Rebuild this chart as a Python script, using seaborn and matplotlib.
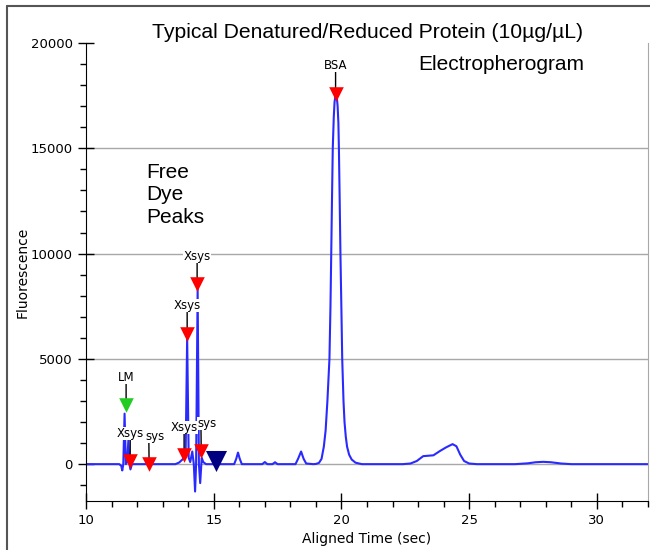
import matplotlib
matplotlib.use("Agg")
import matplotlib.pyplot as plt
from matplotlib.lines import Line2D
from matplotlib.ticker import MultipleLocator
import seaborn as sns

# electropherogram trace (time in sec, fluorescence)
trace_time = [10.0, 11.3, 11.38, 11.42, 11.46, 11.51, 11.56, 11.61, 11.66, 11.70,
              11.74, 11.80, 12.5, 13.5, 13.65, 13.80, 13.90, 13.96, 14.02, 14.08,
              14.16, 14.22, 14.27, 14.31, 14.37, 14.42, 14.47, 14.53, 14.59, 14.70,
              15.8, 15.88, 15.95, 16.02, 16.1, 16.9, 17.0, 17.1, 17.3, 17.4,
              17.5, 18.2, 18.3, 18.42, 18.52, 18.62, 18.9, 19.0, 19.12, 19.22,
              19.31, 19.38, 19.45, 19.53, 19.57, 19.60, 19.63, 19.66, 19.70, 19.73,
              19.76, 19.79, 19.82, 19.85, 19.88, 19.90, 19.93, 19.96, 20.0, 20.03,
              20.08, 20.12, 20.17, 20.22, 20.30, 20.4, 20.55, 20.8, 22.4, 22.7,
              22.95, 23.2, 23.4, 23.6, 23.85, 24.1, 24.35, 24.5, 24.65, 24.8,
              25.0, 25.3, 26.8, 27.3, 27.6, 27.9, 28.2, 28.6, 29.0, 32.0]
trace_fluor = [0, 0, -80, -300, 0, 2400, 0, 100, 1150, 0,
               -250, 0, 0, 0, 80, 250, 500, 6000, 300, 100,
               600, 0, -1300, 0, 8300, 0, -900, 300, 100, 0,
               0, 250, 550, 250, 0, 0, 100, 0, 0, 90,
               0, 0, 250, 600, 250, 30, 0, 10, 60, 250,
               830, 1600, 3000, 5000, 7500, 10000, 12600, 15000, 16500, 17200,
               17450, 17500, 17400, 17000, 16200, 15000, 12600, 10000, 7200, 5000,
               3000, 2000, 1300, 830, 450, 220, 70, 0, 0, 30,
               150, 380, 400, 420, 620, 800, 950, 850, 450, 150,
               30, 0, 0, 40, 90, 110, 90, 30, 0, 0]

# peak markers
peak_labels = ["LM", "Xsys", "sys", "Xsys", "sys", "Xsys", "Xsys", "BSA", ""]
peak_times = [11.57, 11.73, 12.47, 13.84, 14.51, 13.96, 14.35, 19.77, 15.1]
peak_heights = [2800, 140, 0, 430, 620, 6200, 8550, 17600, 150]
peak_colors = ["#22cc22", "red", "red", "red", "red", "red", "red", "red", "#000080"]
peak_sizes = [110, 110, 110, 110, 110, 110, 110, 110, 230]

sns.set_style("ticks")
plt.rcParams["text.color"] = "black"

fig = plt.figure(figsize=(6.5, 5.5), dpi=100)
ax = fig.add_axes([86 / 650, 49 / 550, 562 / 650, 458 / 550])

for gy in [0, 5000, 10000, 15000]:
    ax.axhline(gy, color="#a8a8a8", lw=1, zorder=0)

sns.lineplot(x=trace_time, y=trace_fluor, ax=ax, color="#2a2aff", lw=1.5,
             estimator=None, zorder=2)

for i, (lab, t, h) in enumerate(zip(peak_labels, peak_times, peak_heights)):
    if not lab:
        continue
    # the partly hidden "sys" labels sit a little right of their marker
    dx = 4 if lab == "sys" else 0
    rel = 0.2 if lab == "sys" else 0.5
    ax.annotate(lab, xy=(t, h), xytext=(dx, 20), textcoords="offset points",
                ha="center", va="center", fontsize=8.5, family="DejaVu Sans",
                color="black",
                bbox=dict(boxstyle="square,pad=0.0", fc="white", ec="none"),
                arrowprops=dict(arrowstyle="-", color="black", lw=1,
                                shrinkA=0, shrinkB=0, relpos=(rel, 0)),
                zorder=10 - i * 0.1)

for t, h, c, s in zip(peak_times, peak_heights, peak_colors, peak_sizes):
    sns.scatterplot(x=[t], y=[h], ax=ax, marker="v", s=s, color=c,
                    edgecolor=c, linewidth=0, zorder=12)

ax.set_xlim(10, 32)
ax.set_ylim(-1750, 20000)
ax.xaxis.set_major_locator(MultipleLocator(5))
ax.xaxis.set_minor_locator(MultipleLocator(1))
ax.yaxis.set_major_locator(MultipleLocator(5000))
ax.yaxis.set_minor_locator(MultipleLocator(1000))
ax.tick_params(which="both", bottom=True, left=True, top=False, right=False)
ax.tick_params(which="major", direction="inout", length=12, width=1,
               labelsize=9.5, colors="black")
ax.tick_params(which="minor", direction="out", length=4, width=1, colors="black")
ax.tick_params(axis="x", which="major", pad=3)
for lbl in ax.get_xticklabels() + ax.get_yticklabels():
    lbl.set_family("DejaVu Sans")

ax.spines["top"].set_visible(False)
ax.spines["right"].set_visible(True)
ax.spines["right"].set_color("#a8a8a8")
ax.spines["left"].set_color("black")
ax.spines["bottom"].set_color("black")

ax.set_xlabel("Aligned Time (sec)", fontsize=10, family="DejaVu Sans",
              labelpad=4, color="black")
ax.set_ylabel("Fluorescence", fontsize=10, family="DejaVu Sans",
              labelpad=1, color="black")

fig.text(367 / 650, 1 - 32 / 550, "Typical Denatured/Reduced Protein (10µg/µL)",
         ha="center", va="center", fontsize=15.2, family="Liberation Sans",
         color="black")
fig.text(418 / 650, 1 - 64 / 550, "Electropherogram",
         ha="left", va="center", fontsize=15, family="Liberation Sans",
         color="black")
fig.text(146 / 650, 1 - 195 / 550, "Free\nDye\nPeaks", ha="left", va="center",
         fontsize=15, family="Liberation Sans", linespacing=1.22, color="black")

# frame around the picture (left and top edges only)
fig.add_artist(Line2D([7 / 650, 7 / 650], [0, 1 - 6 / 550], color="#555555", lw=1.5))
fig.add_artist(Line2D([7 / 650, 1], [1 - 6 / 550, 1 - 6 / 550], color="#555555", lw=1.5))

fig.savefig("out.png", dpi=100)
